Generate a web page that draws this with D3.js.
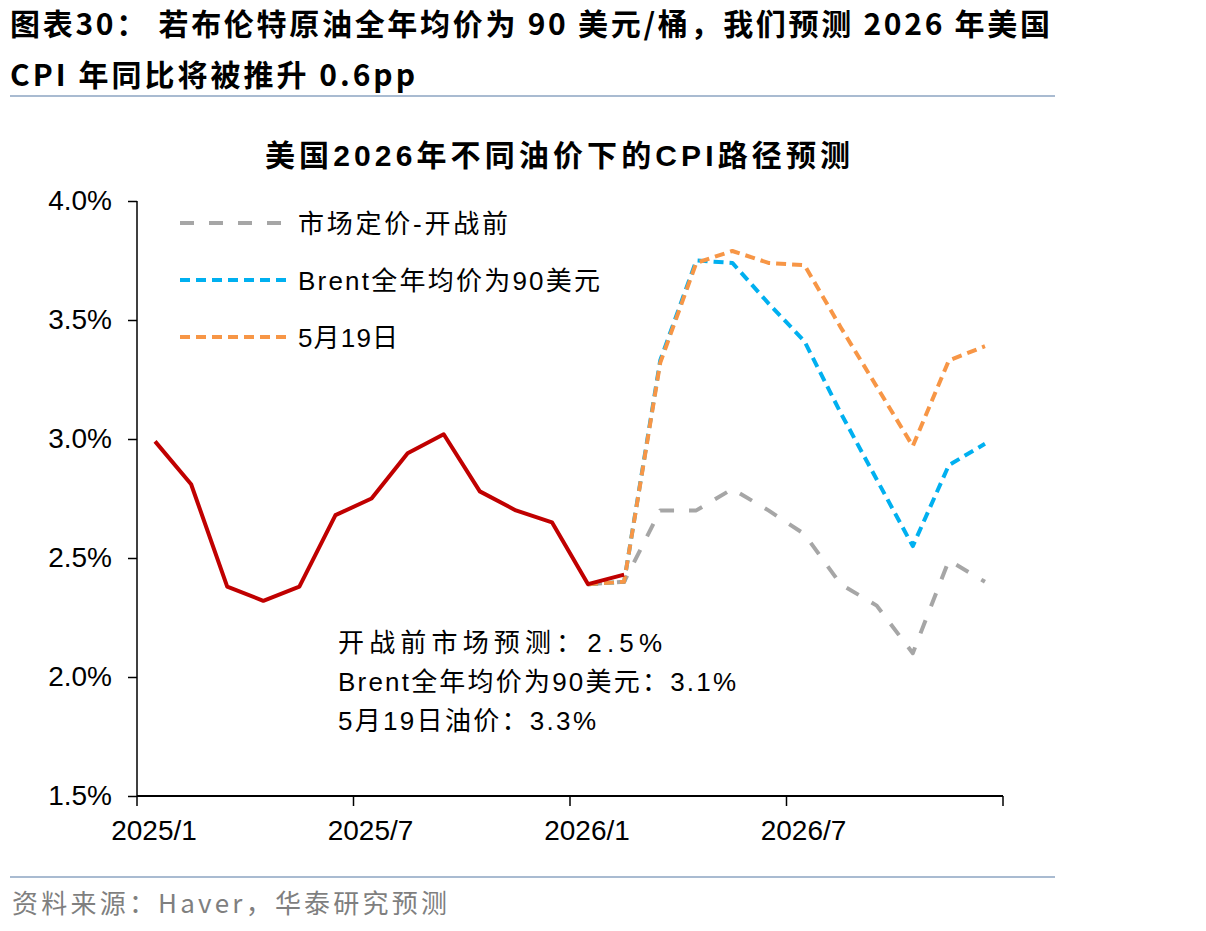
<!DOCTYPE html>
<html lang="zh">
<head>
<meta charset="utf-8" />
<script src="https://d3js.org/d3.v7.min.js"></script>
<style>
  body { margin: 0; background: #fff; }
  svg text { font-family: "Liberation Sans", Arial, "Noto Sans CJK SC", sans-serif; }
</style>
</head>
<body>
<svg id="chart" width="1206" height="931"></svg>
<script>
// -- donnees --
var months = [
  "2025/1","2025/2","2025/3","2025/4","2025/5","2025/6","2025/7","2025/8","2025/9","2025/10","2025/11","2025/12",
  "2026/1","2026/2","2026/3","2026/4","2026/5","2026/6","2026/7","2026/8","2026/9","2026/10","2026/11","2026/12"
];
var tickMonths = ["2025/1","2025/7","2026/1","2026/7"];
var yTicks = [1.5, 2.0, 2.5, 3.0, 3.5, 4.0];

// CPI realise (2025/1 - 2026/2)
var actual = [2.99, 2.81, 2.38, 2.32, 2.38, 2.68, 2.75, 2.94, 3.02, 2.78, 2.70, 2.65, 2.39, 2.43];
// previsions (2026/1 - 2026/12)
var prewar = [2.39, 2.40, 2.70, 2.70, 2.79, 2.70, 2.60, 2.39, 2.30, 2.10, 2.49, 2.40];
var brent90 = [2.39, 2.40, 3.33, 3.75, 3.74, 3.57, 3.41, 3.11, 2.83, 2.55, 2.89, 2.98];
var may19 = [2.39, 2.40, 3.32, 3.74, 3.79, 3.74, 3.73, 3.47, 3.22, 2.97, 3.33, 3.39];

var legendNames = ["市场定价-开战前", "Brent全年均价为90美元", "5月19日"];
var notes = ["开战前市场预测：2.5%", "Brent全年均价为90美元：3.1%", "5月19日油价：3.3%"];

var svg = d3.select("#chart");
var cjk = "'Liberation Sans', Arial, 'Noto Sans CJK SC', sans-serif";
var narrow = "'Liberation Sans Narrow', 'Noto Sans CJK SC', sans-serif";

// ajuste la largeur d'un texte (espacement seulement)
function fit(sel, w) {
  return sel.attr("textLength", w).attr("lengthAdjust", "spacing");
}

// -- titre du graphique --
fit(svg.append("text").attr("x", 10).attr("y", 35)
  .attr("font-size", 30).attr("font-weight", "bold")
  .style("font-family", narrow)
  .text("图表30：  若布伦特原油全年均价为 90 美元/桶，我们预测 2026 年美国"), 1040);
fit(svg.append("text").attr("x", 10).attr("y", 86)
  .attr("font-size", 30).attr("font-weight", "bold")
  .style("font-family", narrow)
  .text("CPI 年同比将被推升 0.6pp"), 405);
svg.append("line").attr("x1", 10).attr("x2", 1055).attr("y1", 96).attr("y2", 96)
  .attr("stroke", "#a9bbd1").attr("stroke-width", 2);

fit(svg.append("text").attr("x", 265).attr("y", 166)
  .attr("font-size", 30).attr("font-weight", "bold")
  .text("美国2026年不同油价下的CPI路径预测"), 585);

// -- echelles --
var x = d3.scaleBand().domain(months).range([137, 1003]);
var y = d3.scaleLinear().domain([1.5, 4.0]).range([796, 201]);
var cx = function(m) { return x(m) + x.bandwidth() / 2; };

// axe Y
var yAxis = svg.append("g").attr("transform", "translate(137,0)")
  .call(d3.axisLeft(y).tickValues(yTicks).tickSize(9).tickPadding(16)
    .tickFormat(function(d) { return d.toFixed(1) + "%"; }));
yAxis.selectAll("text").attr("font-size", 28).attr("fill", "#000")
  .style("font-family", "'Liberation Sans', Arial, sans-serif");
yAxis.selectAll("line, path").attr("stroke", "#000").attr("stroke-width", 1.5);
yAxis.select(".domain").attr("d", "M0,201V796");

// axe X : traits aux limites de bandes
var xAxis = svg.append("g").attr("transform", "translate(0,796)");
xAxis.append("line").attr("x1", 137).attr("x2", 1003).attr("stroke", "#000").attr("stroke-width", 2);
var boundaries = [0, 6, 12, 18, 24];
xAxis.selectAll("line.tk").data(boundaries).enter().append("line").attr("class", "tk")
  .attr("x1", function(i) { return i < 24 ? x(months[i]) : x.range()[1]; })
  .attr("x2", function(i) { return i < 24 ? x(months[i]) : x.range()[1]; })
  .attr("y1", 0).attr("y2", 10).attr("stroke", "#000").attr("stroke-width", 1.5);
xAxis.selectAll("text").data(tickMonths).enter().append("text")
  .attr("x", function(m) { return cx(m) - 1; }).attr("y", 44)
  .attr("text-anchor", "middle").attr("font-size", 28)
  .style("font-family", "'Liberation Sans', Arial, sans-serif")
  .text(function(m) { return m; });

// -- courbes --
var line = d3.line().x(function(d) { return cx(d.m); }).y(function(d) { return y(d.v); });
var fcMonths = months.slice(12);
function pts(vals, ms) { return vals.map(function(v, i) { return { m: ms[i], v: v }; }); }

var series = [
  { vals: prewar, color: "#a6a6a6", dash: "14,15", width: 4 },
  { vals: brent90, color: "#00b0f0", dash: "10,6", width: 4 },
  { vals: may19, color: "#f79646", dash: "10,6", width: 4 }
];
series.forEach(function(s) {
  svg.append("path").datum(pts(s.vals, fcMonths)).attr("d", line)
    .attr("fill", "none").attr("stroke", s.color).attr("stroke-width", s.width)
    .attr("stroke-dasharray", s.dash).attr("stroke-linejoin", "round");
});

svg.append("path").datum(pts(actual, months)).attr("d", line)
  .attr("fill", "none").attr("stroke", "#c00000").attr("stroke-width", 4)
  .attr("stroke-linejoin", "round");

// -- legende --
var legendW = [210, 302, 100];
var legend = svg.append("g");
series.forEach(function(s, i) {
  var ly = 223 + i * 57;
  legend.append("line").attr("x1", 180).attr("x2", 287).attr("y1", ly).attr("y2", ly)
    .attr("stroke", s.color).attr("stroke-width", 4).attr("stroke-dasharray", s.dash);
  fit(legend.append("text").attr("x", 298).attr("y", ly + 10).attr("font-size", 26)
    .style("font-family", cjk).text(legendNames[i]), legendW[i]);
});

// -- annotations --
var notesW = [324, 398, 258];
notes.forEach(function(t, i) {
  fit(svg.append("text").attr("x", 338).attr("y", 652 + i * 39).attr("font-size", 26)
    .style("font-family", cjk).text(t), notesW[i]);
});

// -- source --
svg.append("line").attr("x1", 10).attr("x2", 1055).attr("y1", 877).attr("y2", 877)
  .attr("stroke", "#a9bbd1").attr("stroke-width", 2);
fit(svg.append("text").attr("x", 12).attr("y", 913).attr("font-size", 26).attr("fill", "#7f7f7f")
  .style("font-family", narrow)
  .text("资料来源：Haver，华泰研究预测"), 435);
</script>
</body>
</html>
